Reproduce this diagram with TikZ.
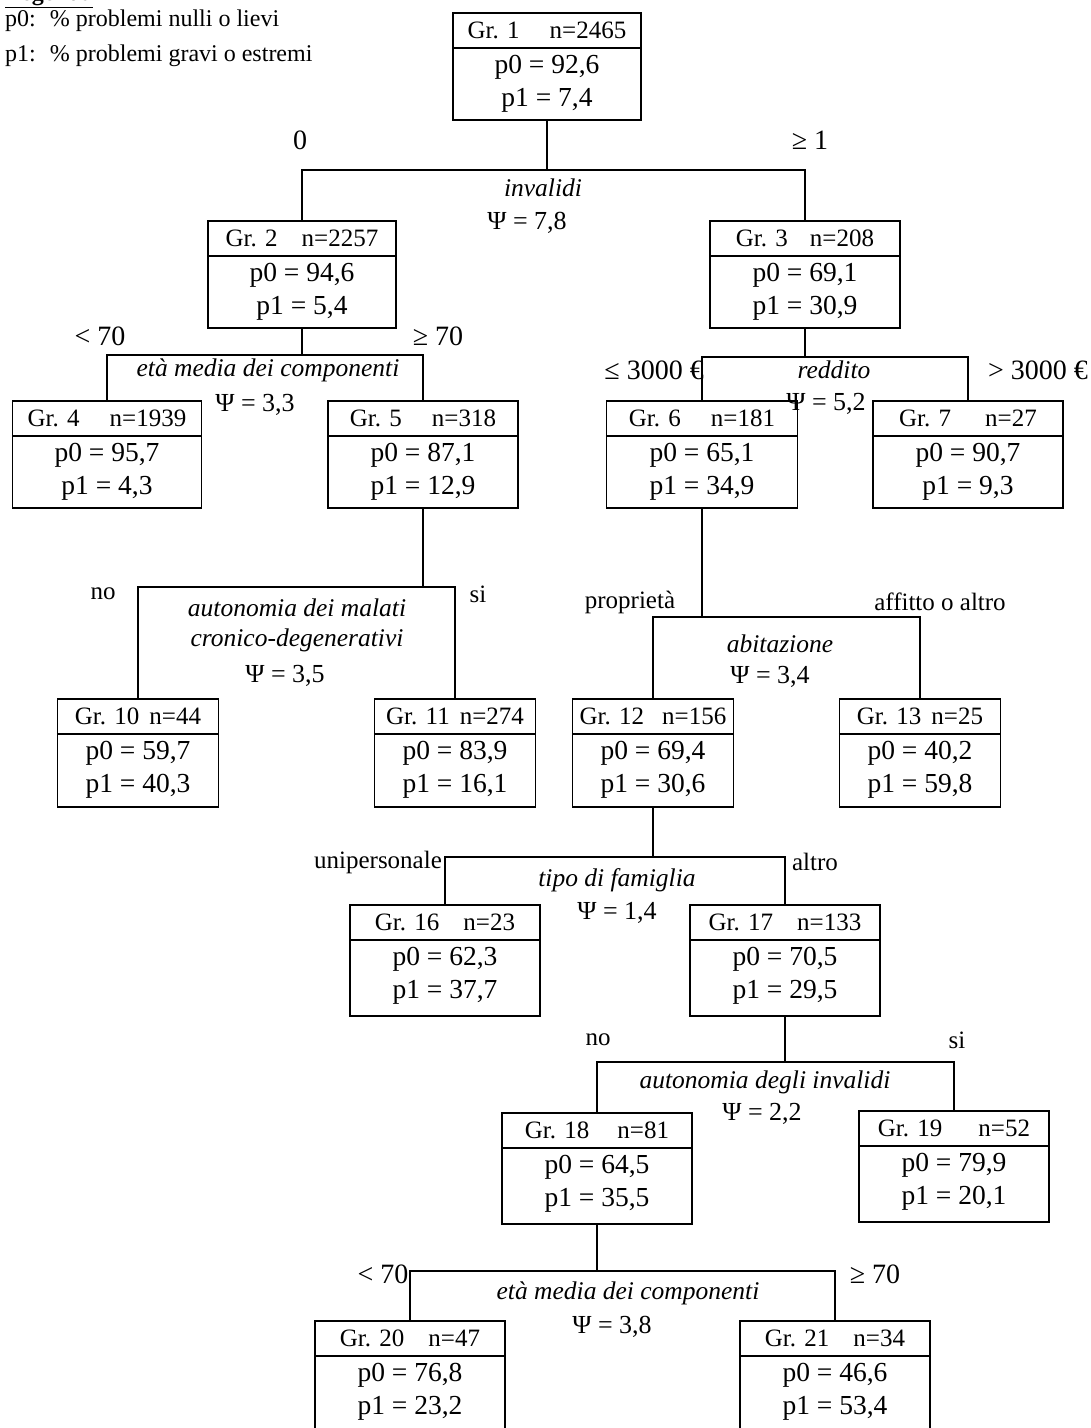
\documentclass[tikz,border=0pt]{standalone}
\usepackage{fontspec}
\setmainfont{Liberation Serif}
\newcommand\grp[9]{% name, cx, top, width, height, header, p0, p1, unused
  \node[gbox, minimum width=#4pt, minimum height=#5pt, anchor=north] (#1) at (#2,#3) {};
  \draw[conn] ([yshift=-36pt]#1.north west) -- ([yshift=-36pt]#1.north east);
  \node[hdr] (#1-h) at ([yshift=-18pt]#1.north) {#6};
  \node[val] (#1-p0) at ([yshift=-55pt]#1.north) {p0 = #7};
  \node[val] (#1-p1) at ([yshift=-88pt]#1.north) {p1 = #8};
}
\begin{document}
\begin{tikzpicture}[x=1pt,y=-1pt,
  gbox/.style={draw, line width=1.5pt, inner sep=0pt, rectangle},
  conn/.style={line width=1.5pt},
  hdr/.style={font=\fontsize{25}{28}\selectfont, inner sep=0pt},
  val/.style={font=\fontsize{27.5}{30}\selectfont, inner sep=0pt},
  crit/.style={font=\fontsize{25.5}{28}\selectfont\itshape, inner sep=0pt},
  psi/.style={font=\fontsize{26}{30}\selectfont, inner sep=0pt},
  lab/.style={font=\fontsize{25}{28}\selectfont, inner sep=0pt},
  nlab/.style={font=\fontsize{28}{30}\selectfont, inner sep=0pt},
  leg/.style={font=\fontsize{24}{28}\selectfont, inner sep=0pt, anchor=west},
]
\useasboundingbox[fill=white] (0,0) rectangle (1091,1428);

% legend
\node[leg, anchor=base west, font=\fontsize{24}{28}\selectfont\bfseries] (legt) at (5,0) {\underline{Legenda}};
\node[leg] (leg0) at (5,21) {p0:\hspace{14pt}\% problemi nulli o lievi};
\node[leg] (leg1) at (5,56) {p1:\hspace{14pt}\% problemi gravi o estremi};

% groups
\grp{g1}{547}{12}{188}{107}{Gr. 1\hspace{30pt}n=2465}{92,6}{7,4}{}
\grp{g2}{302}{220}{188}{107}{Gr. 2\hspace{24pt}n=2257}{94,6}{5,4}{}
\grp{g3}{805}{220}{190}{107}{Gr. 3\hspace{22pt}n=208}{69,1}{30,9}{}
\grp{g4}{107}{400}{189}{107}{Gr. 4\hspace{30pt}n=1939}{95,7}{4,3}{}
\grp{g5}{423}{400}{190}{107}{Gr. 5\hspace{30pt}n=318}{87,1}{12,9}{}
\grp{g6}{702}{400}{191}{107}{Gr. 6\hspace{30pt}n=181}{65,1}{34,9}{}
\grp{g7}{968}{400}{190}{107}{Gr. 7\hspace{34pt}n=27}{90,7}{9,3}{}
\grp{g10}{138}{698}{161}{108}{Gr. 10\hspace{10pt}n=44}{59,7}{40,3}{}
\grp{g11}{455}{698}{161}{108}{Gr. 11\hspace{10pt}n=274}{83,9}{16,1}{}
\grp{g12}{653}{698}{161}{108}{Gr. 12\hspace{18pt}n=156}{69,4}{30,6}{}
\grp{g13}{920}{698}{161}{108}{Gr. 13\hspace{10pt}n=25}{40,2}{59,8}{}
\grp{g16}{445}{904}{190}{111}{Gr. 16\hspace{24pt}n=23}{62,3}{37,7}{}
\grp{g17}{785}{904}{190}{111}{Gr. 17\hspace{24pt}n=133}{70,5}{29,5}{}
\grp{g18}{597}{1112}{190}{111}{Gr. 18\hspace{28pt}n=81}{64,5}{35,5}{}
\grp{g19}{954}{1110}{190}{111}{Gr. 19\hspace{36pt}n=52}{79,9}{20,1}{}
\grp{g20}{410}{1320}{190}{111}{Gr. 20\hspace{24pt}n=47}{76,8}{23,2}{}
\grp{g21}{835}{1320}{190}{111}{Gr. 21\hspace{24pt}n=34}{46,6}{53,4}{}

% split 1
\coordinate (s1) at (547,170);
\draw[conn] (g1.south) -- (s1);
\draw[conn] (g2.north) |- (s1) -| (g3.north);
\node[nlab] (l1a) at (300,140) {0};
\node[nlab] (l1b) at (810,140) {≥ 1};
\node[crit] (c1) at (543,188) {invalidi};
\node[psi] (x1) at (527,223) {Ψ = 7,8};

% split 2
\coordinate (s2) at (302,355);
\draw[conn] (g2.south) -- (s2);
\draw[conn] (g4.north) |- (s2) -| (g5.north);
\node[nlab] (l2a) at (100,336) {< 70};
\node[nlab] (l2b) at (438,336) {≥ 70};
\node[crit] (c2) at (268,370) {età media dei componenti};
\node[psi] (x2) at (255,405) {Ψ = 3,3};

% split 3
\coordinate (s3) at (805,357);
\draw[conn] (g3.south) -- (s3);
\draw[conn] (g6.north) |- (s3) -| (g7.north);
\node[nlab, anchor=east] (l3a) at (704,370) {≤ 3000 €};
\node[nlab, anchor=east] (l3b) at (1088,370) {> 3000 €};
\node[crit] (c3) at (834,370) {reddito};
\node[psi] (x3) at (826,404) {Ψ = 5,2};

% split 5
\coordinate (s5) at (423,587);
\draw[conn] (g5.south) -- (s5);
\draw[conn] (g10.north) |- (s5) -| (g11.north);
\node[lab] (l5a) at (103,594) {no};
\node[lab] (l5b) at (478,594) {si};
\node[crit] (c5a) at (297,608) {autonomia dei malati};
\node[crit] (c5b) at (297,640) {cronico-degenerativi};
\node[psi] (x5) at (285,676) {Ψ = 3,5};

% split 6
\coordinate (s6) at (702,617);
\draw[conn] (g6.south) -- (s6);
\draw[conn] (g12.north) |- (s6) -| (g13.north);
\node[lab] (l6a) at (630,602) {proprietà};
\node[lab] (l6b) at (940,602) {affitto o altro};
\node[crit] (c6) at (780,644) {abitazione};
\node[psi] (x6) at (770,677) {Ψ = 3,4};

% split 12
\coordinate (s12) at (653,857);
\draw[conn] (g12.south) -- (s12);
\draw[conn] (g16.north) |- (s12) -| (g17.north);
\node[lab] (l12a) at (378,862) {unipersonale};
\node[lab] (l12b) at (815,862) {altro};
\node[crit] (c12) at (617,880) {tipo di famiglia};
\node[psi] (x12) at (617,913) {Ψ = 1,4};

% split 17
\coordinate (s17) at (785,1062);
\draw[conn] (g17.south) -- (s17);
\draw[conn] (g18.north) |- (s17) -| (g19.north);
\node[lab] (l17a) at (598,1040) {no};
\node[lab] (l17b) at (957,1040) {si};
\node[crit] (c17) at (765,1082) {autonomia degli invalidi};
\node[psi] (x17) at (762,1114) {Ψ = 2,2};

% split 18
\coordinate (s18) at (597,1271);
\draw[conn] (g18.south) -- (s18);
\draw[conn] (g20.north) |- (s18) -| (g21.north);
\node[nlab] (l18a) at (383,1274) {< 70};
\node[nlab] (l18b) at (875,1274) {≥ 70};
\node[crit] (c18) at (628,1293) {età media dei componenti};
\node[psi] (x18) at (612,1327) {Ψ = 3,8};
\end{tikzpicture}
\end{document}
